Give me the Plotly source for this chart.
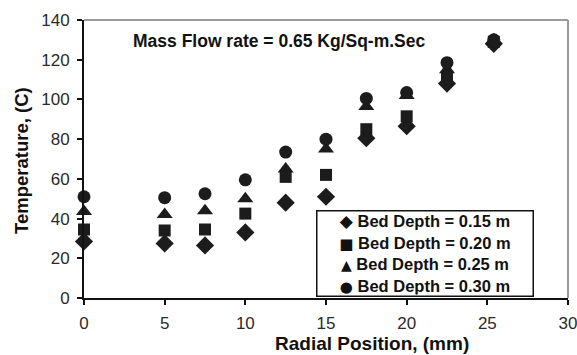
import plotly.graph_objects as go

# Data
radial_mm = [0, 5, 7.5, 10, 12.5, 15, 17.5, 20, 22.5, 25.4]
depth_015 = [28.5, 27.5, 26.5, 33, 48, 51, 80.5, 86.5, 108, 128]
depth_020 = [34.5, 34, 34.5, 42.5, 61, 62, 85, 91.5, 111, 129]
depth_025 = [43.5, 42, 44, 50, 65, 75, 96.5, 102, 115, 130]
depth_030 = [51, 50.5, 52.5, 59.5, 73.5, 80, 100.5, 103.5, 118.5, 130]

series_names = ["Bed Depth = 0.15 m", "Bed Depth = 0.20 m",
                "Bed Depth = 0.25 m", "Bed Depth = 0.30 m"]
series_values = [depth_015, depth_020, depth_025, depth_030]
symbols = ["diamond", "square", "triangle-up", "circle"]
sizes = [14, 12, 14, 13]
legend_glyphs = ["\u25C6", "\u25A0", "\u25B2", "\u25CF"]

x_ticks = [0, 5, 10, 15, 20, 25, 30]
y_ticks = [0, 20, 40, 60, 80, 100, 120, 140]

W, H = 577, 355
L, R, T, B = 84, 9, 20, 57
pw, ph = W - L - R, H - T - B

fig = go.Figure()
for name, vals, sym, sz in zip(series_names, series_values, symbols, sizes):
    fig.add_trace(go.Scatter(
        x=radial_mm, y=vals, mode="markers", name=name,
        marker=dict(symbol=sym, size=sz, color="#1c1c1c", line=dict(width=0)),
        cliponaxis=False, showlegend=False))

axis_font = dict(family="Liberation Sans, Arial, sans-serif", size=17, color="#2a2a2a")
fig.update_xaxes(range=[0, 30], tickvals=x_ticks, showgrid=False, zeroline=False,
                 showline=True, linecolor="#111", linewidth=2,
                 ticks="outside", ticklen=5, tickwidth=1.5, tickcolor="#111",
                 tickfont=axis_font, ticklabelstandoff=4, ticklabeloverflow="allow",
                 automargin=False)
fig.update_yaxes(range=[0, 140], tickvals=y_ticks, showgrid=False, zeroline=False,
                 showline=True, linecolor="#111", linewidth=2,
                 ticks="outside", ticklen=5, tickwidth=1.5, tickcolor="#111",
                 tickfont=axis_font, ticklabelstandoff=4, ticklabeloverflow="allow",
                 automargin=False)

def px_x(p):
    return (p - L) / pw

def px_y(p):
    return 1 - (p - T) / ph

shapes = [
    dict(type="line", xref="paper", yref="paper", x0=0, x1=1, y0=1, y1=1,
         line=dict(color="#9a9a9a", width=2), layer="below"),
    dict(type="line", xref="paper", yref="paper", x0=1, x1=1, y0=0, y1=1,
         line=dict(color="#9a9a9a", width=2), layer="below"),
]

bold = dict(family="Liberation Sans, Arial, sans-serif", color="#111")
glyph_sizes = [17, 15, 14, 15]
legend_lines = [
    f'<span style="font-family:DejaVu Sans;font-size:{gs}px">{g}</span> <b>{n}</b>'
    for g, gs, n in zip(legend_glyphs, glyph_sizes, series_names)
]
legend_text = "<br>".join(legend_lines)

annotations = [
    dict(text="<b>Mass Flow rate = 0.65 Kg/Sq-m.Sec</b>", xref="paper", yref="paper",
         x=px_x(131), y=px_y(41), xanchor="left", yanchor="middle", showarrow=False,
         font=dict(size=17.5, **bold)),
    dict(text="<b>Temperature, (C)</b>", xref="paper", yref="paper",
         x=px_x(21), y=px_y(160), xanchor="center", yanchor="middle", showarrow=False,
         textangle=-90, font=dict(size=18.5, **bold)),
    dict(text="<b>Radial Position, (mm)</b>", xref="paper", yref="paper",
         x=px_x(372), y=px_y(343), xanchor="center", yanchor="middle", showarrow=False,
         font=dict(size=19, **bold)),
    dict(text=legend_text, xref="paper", yref="paper",
         x=px_x(316), y=px_y(297), xanchor="left", yanchor="bottom", showarrow=False,
         align="center", width=213, height=82, bgcolor="white",
         bordercolor="#111", borderwidth=1.5, borderpad=1,
         font=dict(size=16.5, **bold)),
]

fig.update_layout(width=W, height=H, margin=dict(l=L, r=R, t=T, b=B, autoexpand=False),
                  paper_bgcolor="white", plot_bgcolor="white",
                  shapes=shapes, annotations=annotations, showlegend=False)

fig.write_html("out.html")
